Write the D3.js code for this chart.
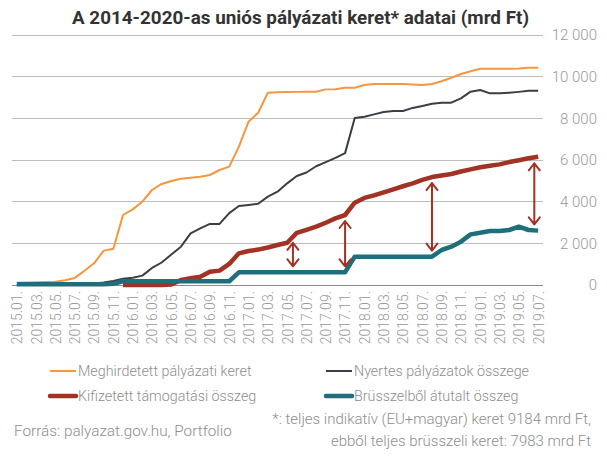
<!DOCTYPE html>
<html>
<head>
<meta charset="utf-8">
<script src="https://cdn.jsdelivr.net/npm/d3@7"></script>
<style>
  html, body { margin: 0; padding: 0; background: #fff; }
  svg { display: block; font-family: Roboto, "Noto Sans", sans-serif; }
</style>
</head>
<body>
<svg id="chart" width="607" height="457"></svg>
<script>
// ---- data ----
const months = [];
for (let yr = 2015; yr <= 2019; yr++) {
  for (let m = 1; m <= 12; m++) {
    if (yr === 2019 && m > 7) break;
    months.push(yr + "." + String(m).padStart(2, "0") + ".");
  }
}
const meghirdetett = [110,120,130,140,160,230,340,680,1040,1650,1740,3360,3630,4000,4560,4850,4990,5100,5150,5200,5280,5520,5680,6640,7840,8270,9230,9250,9260,9270,9280,9280,9390,9400,9470,9470,9600,9650,9650,9650,9650,9620,9600,9650,9780,9950,10130,10260,10380,10380,10380,10380,10390,10430,10430];
const nyertes = [0,0,0,0,0,0,10,30,70,120,190,300,350,450,820,1080,1460,1840,2480,2720,2930,2930,3450,3790,3840,3900,4240,4480,4880,5230,5400,5700,5900,6100,6330,8020,8080,8190,8300,8350,8350,8500,8590,8700,8750,8750,8960,9280,9360,9200,9200,9230,9270,9320,9320];
const kifizetett = [null,null,null,null,null,null,null,null,null,null,null,0,0,0,0,0,20,240,320,400,640,690,1010,1520,1630,1700,1800,1920,2030,2500,2650,2800,2990,3200,3360,3950,4180,4300,4450,4590,4740,4880,5050,5180,5260,5330,5450,5550,5650,5720,5790,5900,5990,6080,6160];
const brusszel = [40,40,40,40,40,40,40,40,40,40,60,180,180,180,180,180,180,180,180,180,180,180,180,610,610,610,610,610,610,610,610,610,610,610,610,1360,1360,1360,1360,1360,1360,1360,1360,1360,1680,1840,2080,2430,2510,2590,2590,2640,2800,2640,2610];
const yTicks = [0,2000,4000,6000,8000,10000,12000];
const arrowMonths = [28.6, 34, 43, 53.6];
const seriesNames = ["Meghirdetett pályázati keret","Nyertes pályázatok összege","Kifizetett támogatási összeg","Brüsszelből átutalt összeg"];
const titleText = "A 2014-2020-as uniós pályázati keret* adatai (mrd Ft)";
const sourceText = "Forrás: palyazat.gov.hu, Portfolio";
const noteLines = ["*: teljes indikatív (EU+magyar) keret 9184 mrd Ft,", "ebből teljes brüsszeli keret: 7983 mrd Ft"];

// ---- layout ----
const colors = ["#F7963E", "#3A3E47", "#A23223", "#1F6F7B"];
const widths = [2, 2, 4.5, 4.5];
const svg = d3.select("#chart");
const plotLeft = 12, plotRight = 543, plotTop = 35, plotBottom = 285;
const step = (plotRight - plotLeft) / months.length;
const x = d3.scaleLinear().domain([0, months.length - 1]).range([plotLeft + step / 2, plotRight - step / 2]);
const y = d3.scaleLinear().domain([0, 12000]).range([plotBottom, plotTop]);

// title
svg.append("text").attr("x", 300.5).attr("y", 24).attr("text-anchor", "middle")
  .attr("font-size", 19).attr("font-weight", 700).attr("fill", "#333")
  .attr("textLength", 457).attr("lengthAdjust", "spacingAndGlyphs").text(titleText);

// grid
svg.append("g").selectAll("line").data(yTicks.filter(d => d > 0)).join("line")
  .attr("x1", plotLeft).attr("x2", plotRight).attr("y1", d => y(d)).attr("y2", d => y(d))
  .attr("stroke", "#BDBDBD").attr("stroke-width", 1).attr("shape-rendering", "crispEdges");
svg.append("line").attr("x1", plotLeft).attr("x2", plotRight).attr("y1", y(0)).attr("y2", y(0))
  .attr("stroke", "#8C8C8C").attr("stroke-width", 1).attr("shape-rendering", "crispEdges");

// y axis (right)
const fmtY = d => d === 0 ? "0" : (Math.floor(d / 1000) + " " + String(d % 1000).padStart(3, "0"));
const yAxis = d3.axisRight(y).tickValues(yTicks).tickSize(0).tickPadding(0).tickFormat(fmtY);
const gy = svg.append("g").attr("transform", "translate(597,0)").call(yAxis);
gy.select(".domain").remove();
gy.selectAll("text").attr("text-anchor", "end").attr("font-size", 15).attr("font-weight", 300)
  .attr("fill", "#9A9A9A").attr("font-family", "Roboto").attr("x", 0);

// x axis
const xAxis = d3.axisBottom(x).tickValues(d3.range(0, months.length, 2)).tickSize(0)
  .tickFormat(i => months[i]);
const gx = svg.append("g").attr("transform", `translate(0,${plotBottom})`).call(xAxis);
gx.select(".domain").remove();
gx.selectAll("text").attr("transform", "rotate(-90)").attr("text-anchor", "end")
  .attr("x", -6).attr("y", 0).attr("dy", "0.35em")
  .attr("font-size", 14).attr("font-weight", 300).attr("fill", "#9A9A9A").attr("font-family", "Roboto");

// lines
const allSeries = [meghirdetett, nyertes, kifizetett, brusszel];
const line = d3.line().defined(d => d != null).x((d, i) => x(i)).y(d => y(d));
allSeries.forEach((s, k) => {
  svg.append("path").datum(s).attr("d", line).attr("fill", "none")
    .attr("stroke", colors[k]).attr("stroke-width", widths[k])
    .attr("stroke-linejoin", "round");
});

// arrows
function interp(s, m) {
  const i0 = Math.floor(m), i1 = Math.min(i0 + 1, s.length - 1), t = m - i0;
  return s[i0] * (1 - t) + s[i1] * t;
}
const arrowG = svg.append("g").attr("stroke", "#A23223").attr("stroke-width", 2)
  .attr("fill", "none").attr("stroke-linecap", "round").attr("stroke-linejoin", "round");
arrowMonths.forEach(m => {
  const ax = x(m);
  const y1 = y(interp(kifizetett, m)) + 6;
  const y2 = y(interp(brusszel, m)) - 6;
  const p = d3.path();
  p.moveTo(ax, y1); p.lineTo(ax, y2);
  p.moveTo(ax - 5.5, y1 + 7); p.lineTo(ax, y1); p.lineTo(ax + 5.5, y1 + 7);
  p.moveTo(ax - 5.5, y2 - 7); p.lineTo(ax, y2); p.lineTo(ax + 5.5, y2 - 7);
  arrowG.append("path").attr("d", p.toString());
});

// legend
const legendPos = [[50, 371], [326, 371], [50, 396], [326, 396]];
seriesNames.forEach((name, k) => {
  const [lx, ly] = legendPos[k];
  svg.append("line").attr("x1", lx).attr("x2", lx + 26).attr("y1", ly).attr("y2", ly)
    .attr("stroke", colors[k]).attr("stroke-width", k >= 2 ? 4.5 : 2)
    .attr("stroke-linecap", k >= 2 ? "round" : "butt");
  svg.append("text").attr("x", lx + 28).attr("y", ly).attr("dy", "0.35em")
    .attr("font-size", 14.3).attr("font-weight", 300).attr("fill", "#8E8E8E").text(name);
});

// source & notes
svg.append("text").attr("x", 14).attr("y", 431).attr("dy", "0.35em")
  .attr("font-size", 15.3).attr("font-weight", 300).attr("fill", "#8E8E8E").text(sourceText);
noteLines.forEach((t, i) => {
  svg.append("text").attr("x", 591).attr("y", 419 + i * 22).attr("dy", "0.35em")
    .attr("text-anchor", "end").attr("font-size", 15).attr("font-weight", 300)
    .attr("fill", "#8E8E8E").text(t);
});
</script>
</body>
</html>
